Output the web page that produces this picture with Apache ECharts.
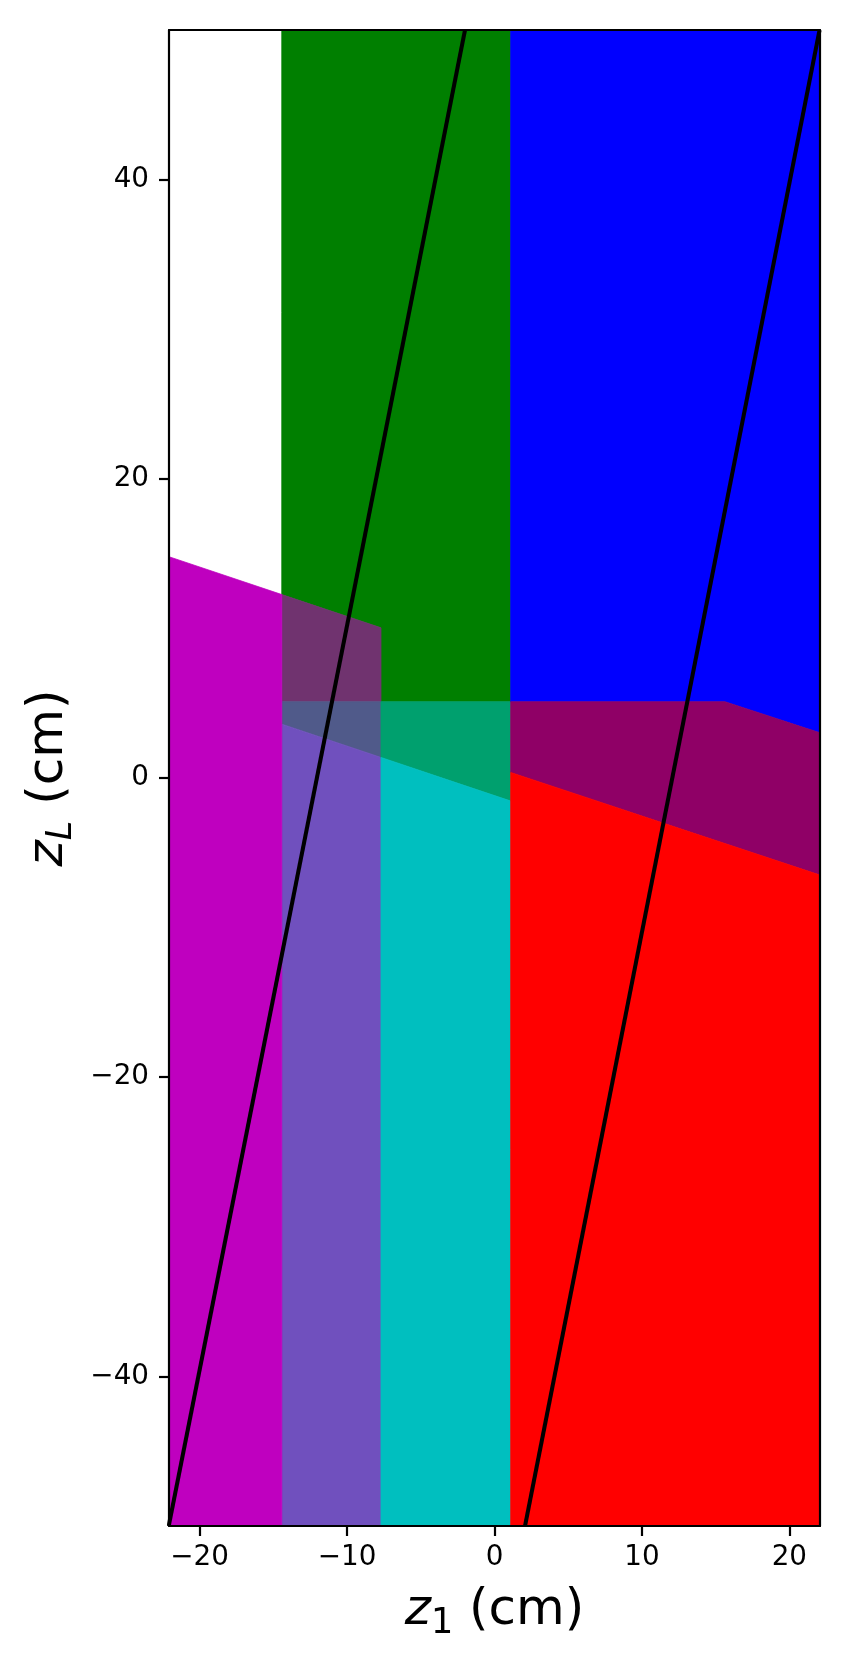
<!DOCTYPE html>
<html>
<head>
<meta charset="utf-8">
<script src="https://cdn.jsdelivr.net/npm/echarts@6/dist/echarts.min.js"></script>
<style>
html,body{margin:0;padding:0;background:#fff;}
#chart{width:850px;height:1666px;}
</style>
</head>
<body>
<div id="chart"></div>
<script>
// ---- axis ranges and ticks ----
const xRange = [-22.08, 22.08];
const yRange = [-50, 50];
const xTicks = [-20, -10, 0, 10, 20];
const yTicks = [-40, -20, 0, 20, 40];

// ---- region boundaries (data units, cm) ----
const columnEdges = [-14.43, -7.70, 1.10];      // left of green/cyan, right of magenta, right of green/cyan
const flatLevel = 5.1;                          // top of cyan / flat bottom of blue
const magentaTop = [[-22.08, 14.79], [-7.70, 10.04]];
const greenBottom = [[-14.43, 3.60], [1.10, -1.54]];
const redTop = [[1.10, 0.37], [22.08, -6.49]];
const blueBottom = [[1.10, 5.1], [15.63, 5.1], [22.08, 3.02]];

// ---- region colours ----
const regionNames = ['green', 'green+magenta', 'green+cyan+magenta', 'cyan+magenta',
  'green+cyan', 'cyan', 'magenta', 'blue', 'blue+red', 'red'];
const regionColors = ['#007f00', '#70336f', '#505a8a', '#7050be',
  '#00a06e', '#00bfbf', '#bf00bf', '#0000ff', '#8f0066', '#ff0000'];

// ---- black lines ----
const line1 = [[-22.1, -50], [-2.0, 50]];
const line2 = [[2.07, -50], [22.05, 50]];

function lineAt(seg, x) {
  const p = seg[0], q = seg[seg.length - 1];
  return p[1] + (q[1] - p[1]) * (x - p[0]) / (q[0] - p[0]);
}

const a = columnEdges[0], b = columnEdges[1], c = columnEdges[2];
const xL = xRange[0], xR = xRange[1], yB = yRange[0], yT = yRange[1], h = flatLevel;
const M = x => lineAt(magentaTop, x);
const G = x => lineAt(greenBottom, x);
const R = x => lineAt(redTop, x);

const regionPolys = [
  [[a, yT], [c, yT], [c, h], [b, h], [b, M(b)], [a, M(a)]],
  [[a, M(a)], [b, M(b)], [b, h], [a, h]],
  [[a, h], [b, h], [b, G(b)], [a, G(a)]],
  [[a, G(a)], [b, G(b)], [b, yB], [a, yB]],
  [[b, h], [c, h], [c, G(c)], [b, G(b)]],
  [[b, G(b)], [c, G(c)], [c, yB], [b, yB]],
  [[xL, M(xL)], [a, M(a)], [a, yB], [xL, yB]],
  [[c, yT], [xR, yT]].concat(blueBottom.slice().reverse()),
  blueBottom.concat([[xR, R(xR)], [c, R(c)]]),
  [[c, R(c)], [xR, R(xR)], [xR, yB], [c, yB]]
];

const FONT = 'DejaVu Sans';
const fmt = v => (v < 0 ? '\u2212' + Math.abs(v) : String(v));

const nameRich = {
  i: {fontFamily: FONT, fontSize: 50, fontStyle: 'italic', lineHeight: 60, color: '#000'},
  s: {fontFamily: FONT, fontSize: 35, lineHeight: 34, verticalAlign: 'bottom', color: '#000'},
  si: {fontFamily: FONT, fontSize: 35, fontStyle: 'italic', lineHeight: 34, verticalAlign: 'bottom', color: '#000'},
  n: {fontFamily: FONT, fontSize: 50, lineHeight: 60, color: '#000'}
};

const spine = {show: true, onZero: false, lineStyle: {color: '#000', width: 2.2}};

const chart = echarts.init(document.getElementById('chart'), null, {renderer: 'canvas'});
chart.setOption({
  backgroundColor: '#fff',
  animation: false,
  grid: {left: 169, right: 30, top: 30, bottom: 140, containLabel: false},
  xAxis: [{
    type: 'value', min: xRange[0], max: xRange[1], position: 'bottom', z: 10,
    axisLine: spine,
    axisTick: {show: true, length: 10, customValues: xTicks, lineStyle: {color: '#000', width: 2.2}},
    axisLabel: {show: true, customValues: xTicks, formatter: fmt, fontFamily: FONT, fontSize: 27.8, color: '#000', margin: 18},
    splitLine: {show: false},
    name: '{i|z}{s|1}{n| (cm)}', nameLocation: 'middle', nameGap: 55,
    nameTextStyle: {rich: nameRich}
  }, {
    type: 'value', min: xRange[0], max: xRange[1], position: 'top', z: 10,
    axisLine: spine, axisTick: {show: false}, axisLabel: {show: false}, splitLine: {show: false}
  }],
  yAxis: [{
    type: 'value', min: yRange[0], max: yRange[1], position: 'left', z: 10,
    axisLine: spine,
    axisTick: {show: true, length: 10, customValues: yTicks, lineStyle: {color: '#000', width: 2.2}},
    axisLabel: {show: true, customValues: yTicks, formatter: fmt, fontFamily: FONT, fontSize: 27.8, color: '#000', margin: 20},
    splitLine: {show: false},
    name: '{i|z}{si|L}{n| (cm)}', nameLocation: 'middle', nameGap: 80, nameRotate: 90,
    nameTextStyle: {rich: nameRich}
  }, {
    type: 'value', min: yRange[0], max: yRange[1], position: 'right', z: 10,
    axisLine: spine, axisTick: {show: false}, axisLabel: {show: false}, splitLine: {show: false}
  }],
  series: [{
    type: 'custom',
    coordinateSystem: 'cartesian2d',
    clip: true,
    z: 1,
    silent: true,
    data: regionNames.map((n, i) => [i, 0]),
    encode: {x: -1, y: -1},
    renderItem: function (params, api) {
      const i = params.dataIndex;
      const pts = regionPolys[i].map(p => api.coord(p));
      return {
        type: 'polygon',
        shape: {points: pts},
        style: {fill: regionColors[i], stroke: regionColors[i], lineWidth: 0.8}
      };
    }
  }, {
    type: 'line', data: line1, showSymbol: false, symbol: 'none', clip: true, z: 5,
    lineStyle: {color: '#000', width: 4}, silent: true
  }, {
    type: 'line', data: line2, showSymbol: false, symbol: 'none', clip: true, z: 5,
    lineStyle: {color: '#000', width: 4}, silent: true
  }]
});
</script>
</body>
</html>
